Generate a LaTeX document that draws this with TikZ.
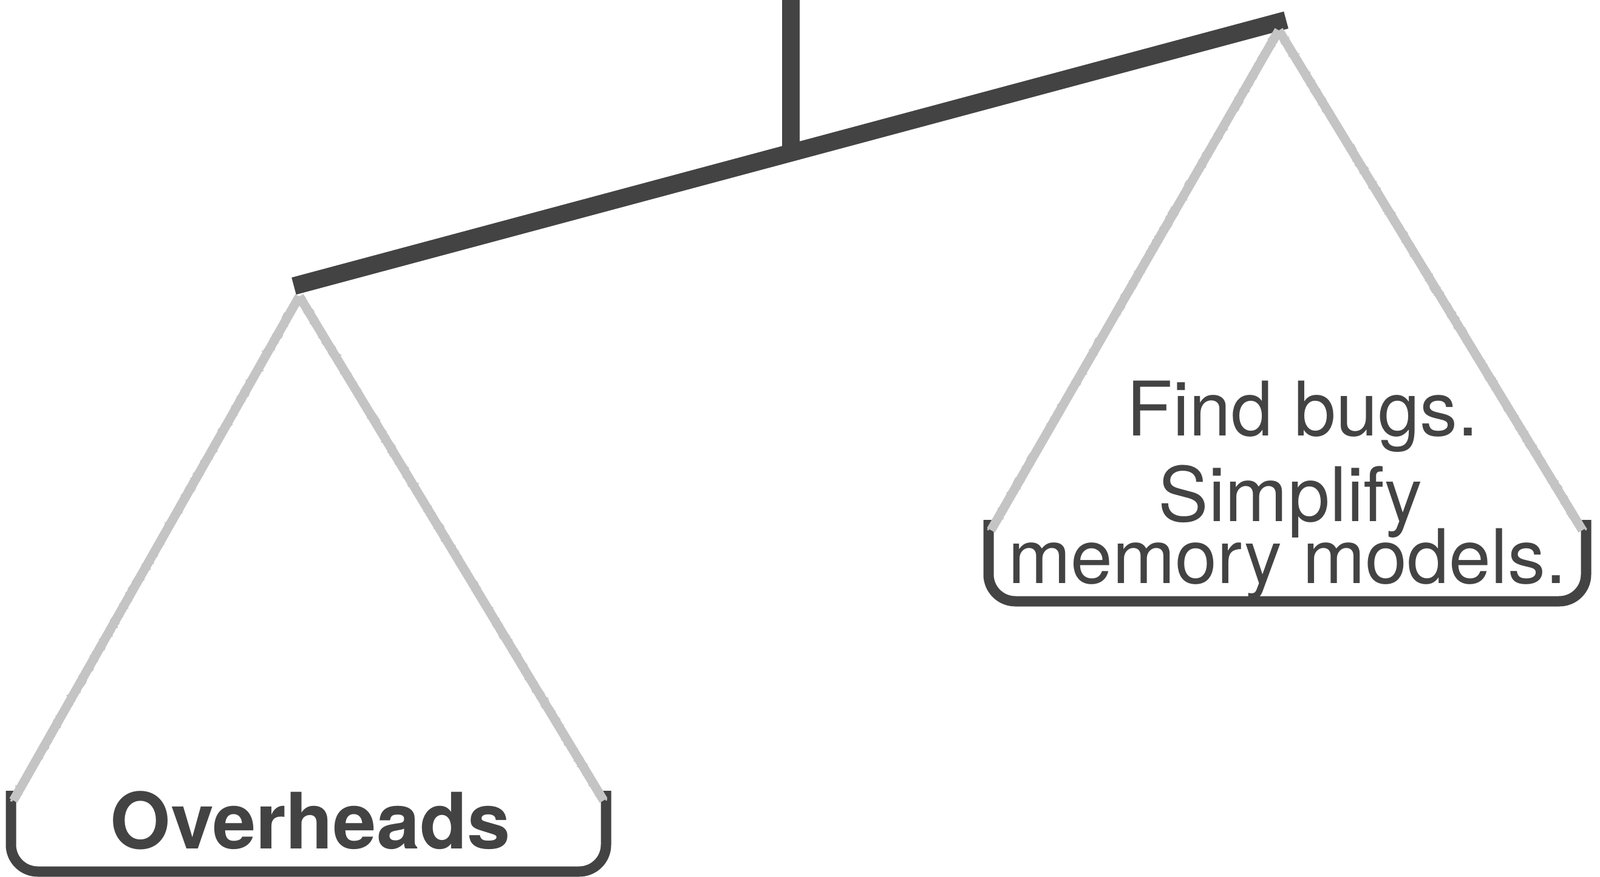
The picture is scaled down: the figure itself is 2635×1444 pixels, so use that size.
\documentclass[tikz,border=0pt]{standalone}
\usepackage{fontspec}
\setmainfont{TeX Gyre Heros}
\usetikzlibrary{decorations.pathmorphing}
\definecolor{ink}{RGB}{67,67,67}
\definecolor{chalk}{RGB}{196,196,196}
\begin{document}
\begin{tikzpicture}[x=0.5pt,y=-0.5pt,
  bar/.style={draw=ink,line width=14.5pt,line cap=butt},
  pan/.style={draw=ink,line width=8.5pt,rounded corners=22pt},
  rope/.style={draw=chalk,line width=7.5pt,line cap=butt},
  roperough/.style={draw=chalk,line width=1.4pt,decorate,decoration={random steps,segment length=2pt,amplitude=1.4pt}},
  lbl/.style={text=ink,inner sep=0pt,anchor=base}]
\useasboundingbox (0,0) rectangle (2635,1444);
% post and beam
\coordinate (postTop) at (1302,0);
\coordinate (pivot) at (1302,252);
\coordinate (beamL) at (484,471);
\coordinate (beamR) at (2118,33);
\draw[bar] (postTop) -- (pivot);
\draw[bar] (beamL) -- (beamR);
% pans
\coordinate (lTL) at (18,1302);
\coordinate (lBL) at (18,1435);
\coordinate (lBR) at (998,1435);
\coordinate (lTR) at (998,1302);
\coordinate (rTL) at (1628,856);
\coordinate (rBL) at (1628,990);
\coordinate (rBR) at (2612,990);
\coordinate (rTR) at (2612,856);
\draw[pan] (lTL) -- (lBL) -- (lBR) -- (lTR);
\draw[pan] (rTL) -- (rBL) -- (rBR) -- (rTR);
% ropes
\coordinate (lApex) at (493,488);
\coordinate (rApex) at (2106,50);
\coordinate (lRopeL) at (22,1318);
\coordinate (lRopeR) at (994,1318);
\coordinate (rRopeL) at (1632,873);
\coordinate (rRopeR) at (2606,873);
\foreach \a/\b in {lApex/lRopeL,lApex/lRopeR,rApex/rRopeL,rApex/rRopeR}{
  \draw[rope] (\a) -- (\b);
  \draw[roperough,transform canvas={xshift=2.6pt}] (\a) -- (\b);
  \draw[roperough,transform canvas={xshift=-2.6pt}] (\a) -- (\b);
}
% labels
\node[lbl,font=\bfseries\fontsize{64pt}{64pt}\selectfont] (over) at (511,1397) {Overheads};
\node[lbl,font=\fontsize{62pt}{62pt}\selectfont] (find) at (2145,717) {Find bugs.};
\node[lbl,font=\fontsize{62pt}{62pt}\selectfont] (simp) at (2125,858) {Simplify};
\node[lbl,font=\fontsize{62pt}{62pt}\selectfont] (mem) at (2120,960) {memory models.};
\end{tikzpicture}
\end{document}
